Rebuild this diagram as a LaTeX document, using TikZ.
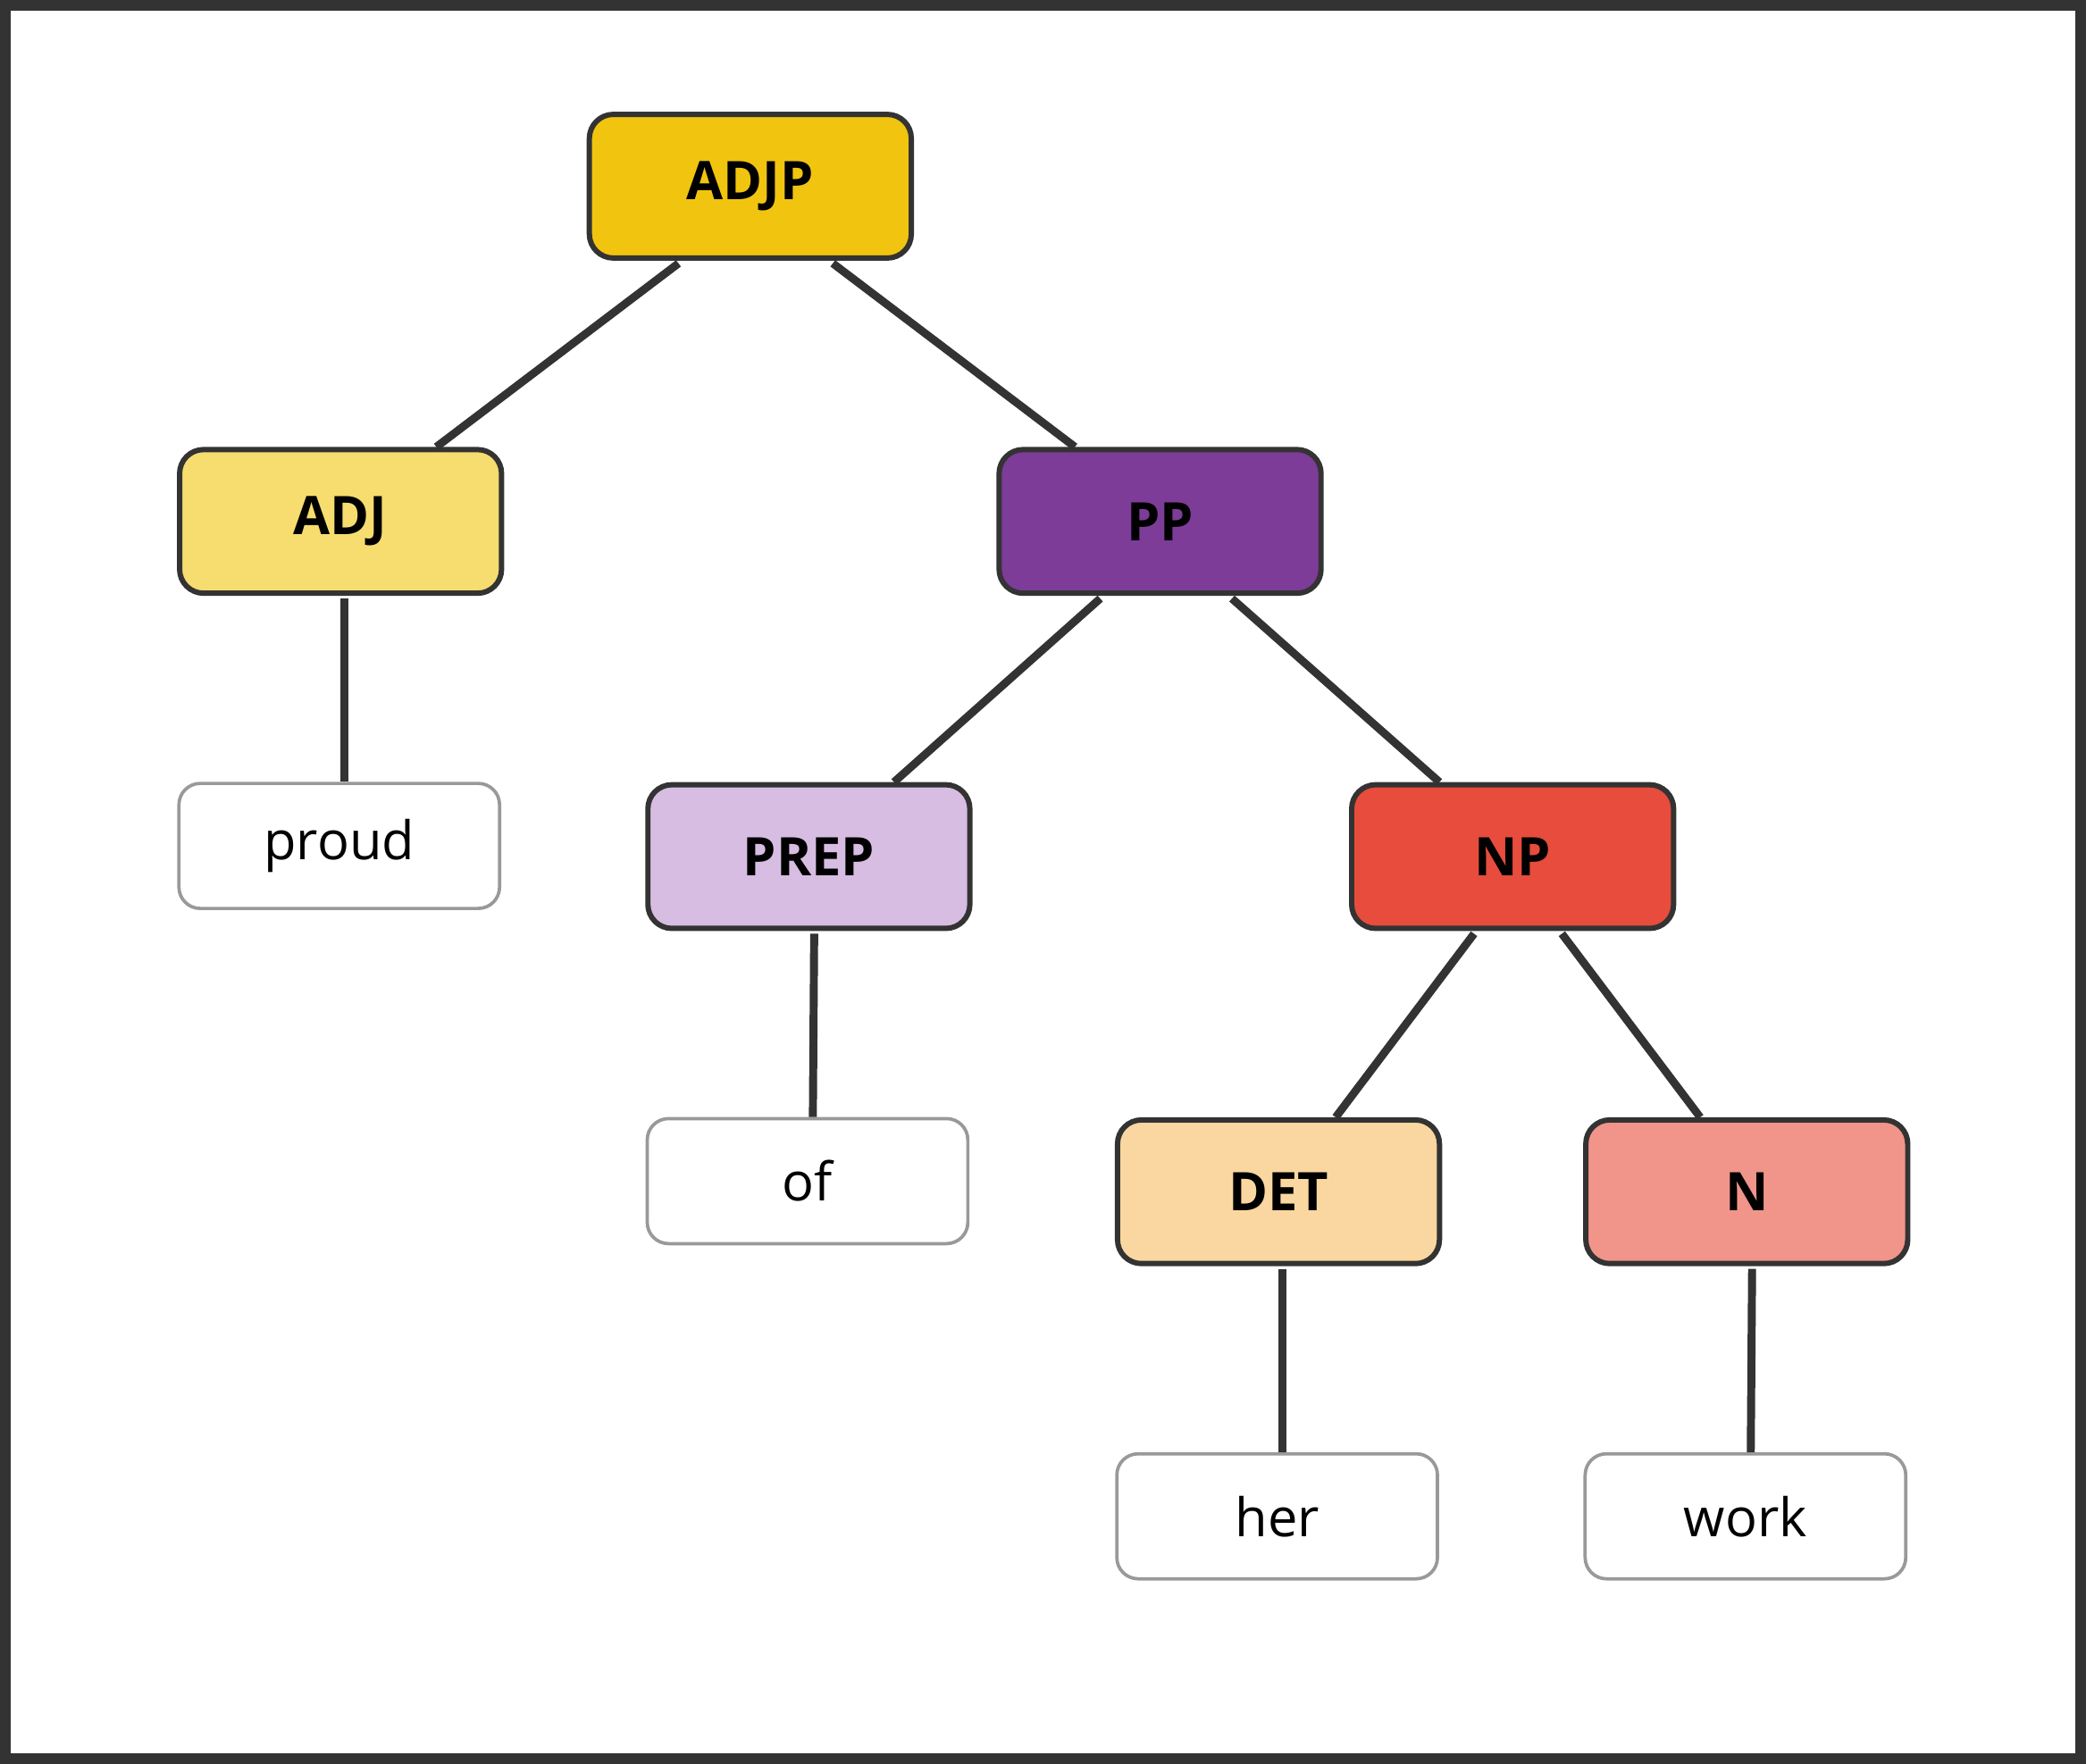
\documentclass[tikz,border=0pt]{standalone}
\usepackage{fontspec}
\setmainfont{Open Sans}
\definecolor{edge}{HTML}{333333}
\definecolor{leafb}{HTML}{999999}
\definecolor{cADJP}{HTML}{F1C40F}
\definecolor{cADJ}{HTML}{F7DC6F}
\definecolor{cPP}{HTML}{7D3C98}
\definecolor{cPREP}{HTML}{D7BDE2}
\definecolor{cNP}{HTML}{E74C3C}
\definecolor{cDET}{HTML}{FAD7A0}
\definecolor{cN}{HTML}{F1948A}
\begin{document}
\begin{tikzpicture}[x=1pt,y=-1pt,
  cat/.style={draw=edge,line width=4pt,rounded corners=18pt,minimum width=242pt,minimum height=108pt,inner sep=0pt,font=\fontsize{40}{46}\selectfont\bfseries},
  leaf/.style={draw=leafb,fill=white,line width=2.5pt,rounded corners=16pt,minimum width=241pt,minimum height=94pt,inner sep=0pt,font=\fontsize{40}{46}\selectfont},
  link/.style={draw=edge,line width=6pt}]
\useasboundingbox (0,0) rectangle (1568,1326);
\draw[edge,line width=8pt] (4,4) rectangle (1564,1322);
\node[cat,fill=cADJP] (adjp) at (564,140) {ADJP};
\node[cat,fill=cADJ] (adj) at (256,392) {ADJ};
\node[cat,fill=cPP] (pp) at (872,392) {PP};
\node[leaf] (proud) at (255,636) {proud};
\node[cat,fill=cPREP] (prep) at (608,644) {PREP};
\node[cat,fill=cNP] (np) at (1137,644) {NP};
\node[leaf] (of) at (607,888) {of};
\node[cat,fill=cDET] (det) at (961,896) {DET};
\node[cat,fill=cN] (n) at (1313,896) {N};
\node[leaf] (her) at (960,1140) {her};
\node[leaf] (work) at (1312,1140) {work};
\draw[link] ([xshift=-54pt,yshift=-2pt]adjp.south) -- ([xshift=72pt]adj.north);
\draw[link] ([xshift=62pt,yshift=-2pt]adjp.south) -- ([xshift=-64pt]pp.north);
\draw[link] ([xshift=3pt,yshift=-2pt]adj.south) -- ([xshift=4pt]proud.north);
\draw[link] ([xshift=-45pt,yshift=-2pt]pp.south) -- ([xshift=64pt]prep.north);
\draw[link] ([xshift=54pt,yshift=-2pt]pp.south) -- ([xshift=-55pt]np.north);
\draw[link] ([xshift=4pt,yshift=-2pt]prep.south) -- ([xshift=4pt]of.north);
\draw[link] ([xshift=-29pt,yshift=-2pt]np.south) -- ([xshift=43pt]det.north);
\draw[link] ([xshift=37pt,yshift=-2pt]np.south) -- ([xshift=-35pt]n.north);
\draw[link] ([xshift=3pt,yshift=-2pt]det.south) -- ([xshift=4pt]her.north);
\draw[link] ([xshift=4pt,yshift=-2pt]n.south) -- ([xshift=4pt]work.north);
\end{tikzpicture}
\end{document}
